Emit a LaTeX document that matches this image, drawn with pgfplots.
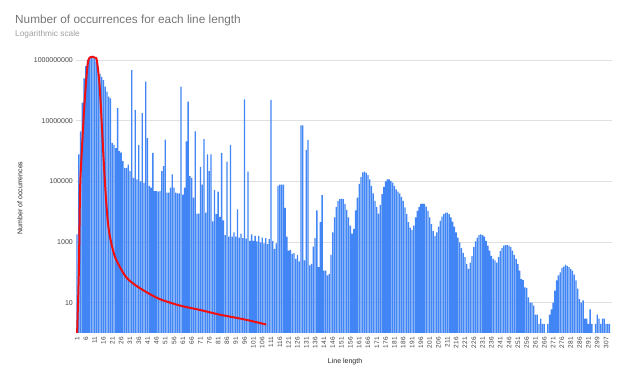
\documentclass[border=0pt]{standalone}
\usepackage{pgfplots}
\pgfplotsset{compat=1.18}
\usepackage{fontspec}
\setmainfont{Liberation Sans}
\definecolor{barblue}{HTML}{4285F4}
\definecolor{titlegrey}{HTML}{757575}
\definecolor{subgrey}{HTML}{9E9E9E}
\definecolor{gridgrey}{HTML}{E0E0E0}
\definecolor{ticktext}{HTML}{444444}
\definecolor{lred}{HTML}{F20F0F}
\begin{document}
\begin{tikzpicture}
\useasboundingbox (0bp,0bp) rectangle (624bp,380bp);
\node[anchor=base west, text=titlegrey, font=\fontsize{11.8bp}{14bp}\selectfont, inner sep=0pt] at (15bp,356bp) {Number of occurrences for each line length};
\node[anchor=base west, text=subgrey, font=\fontsize{8.3bp}{10bp}\selectfont, inner sep=0pt] at (15bp,343.5bp) {Logarithmic scale};
\begin{axis}[
  at={(76bp,47bp)}, anchor=south west,
  scale only axis, width=536bp, height=288bp,
  ymode=log, ymin=1, ymax=3162277660,
  xmin=-0.6, xmax=303.4,
  axis lines*=left,
  axis line style={draw=none},
  major tick length=0pt, minor tick length=0pt,
  ymajorgrids, major grid style={gridgrey, line width=0.8bp},
  ytick={10,1000,100000,10000000,1000000000},
  yticklabels={10,1000,100000,10000000,1000000000},
  yticklabel style={font=\fontsize{7bp}{8bp}\selectfont, text=ticktext, inner sep=0pt, anchor=east},
  yticklabel shift=3bp,
  xtick={0,5,...,300},
  xticklabels={1,6,11,16,21,26,31,36,41,46,51,56,61,66,71,76,81,86,91,96,101,106,111,116,121,126,131,136,141,146,151,156,161,166,171,176,181,186,191,196,201,206,211,216,221,226,231,236,241,246,251,256,261,266,271,276,281,286,291,299,307},
  xticklabel style={font=\fontsize{6.5bp}{7bp}\selectfont, text=ticktext, rotate=90, anchor=east, inner sep=0pt},
  xticklabel shift=4bp,
  xlabel={Line length}, ylabel={Number of occurrences},
  xlabel style={font=\fontsize{7bp}{8bp}\selectfont, text=black!85, at={(axis description cs:0.502,-0.1007)}, anchor=center},
  ylabel style={font=\fontsize{7bp}{8bp}\selectfont, text=black!85, at={(axis description cs:-0.1045,0.469)}, anchor=center, rotate=0},
  clip=true,
]
\addplot[ybar, bar width=0.75, fill=barblue, draw=none] coordinates {
(0,1800)(1,780000)(2,4500000)(3,40000000)(4,250000000)(5,630000000)(6,1000000000)(7,1200000000)(8,1260000000)(9,1260000000)(10,1120000000)(11,890000000)(12,450000000)(13,350000000)(14,280000000)(15,220000000)(16,135000000)(17,91000000)(18,63000000)(19,55000000)(20,1860000)(21,1620000)(22,1260000)(23,26000000)(24,1000000)(25,890000)(26,470000)(27,280000)(28,280000)(29,360000)(30,220000)(31,470000000)(32,130000)(33,23000000)(34,117000)(35,1600000)(36,100000)(37,18000000)(38,89000)(39,195000000)(40,2700000)(41,71000)(42,62000)(43,870000)(44,48000)(45,48000)(46,46000)(47,48000)(48,220000)(49,320000)(50,2400000)(51,43000)(52,43000)(53,62000)(54,170000)(55,62000)(56,43000)(57,40000)(58,40000)(59,135000000)(60,37000)(61,62000)(62,2100000)(63,43000000)(64,150000)(65,130000)(66,29000)(67,4500000)(68,8700)(69,8700)(70,300000)(71,79000)(72,2500000)(73,9300)(74,780000)(75,220000)(76,780000)(77,4800)(78,52000)(79,8300)(80,46000)(81,6800)(82,870000)(83,5200)(84,1700)(85,450000)(86,1500)(87,1600000)(88,1500)(89,2100)(90,1500)(91,12000)(92,1400)(93,1900)(94,1350)(95,51000000)(96,1300)(97,210000)(98,1100)(99,1800)(100,1100)(101,1600)(102,1050)(103,1600)(104,980)(105,1400)(106,910)(107,1350)(108,850)(109,1260)(110,49000000)(111,1100)(112,590)(113,910)(114,71000)(115,79000)(116,79000)(117,79000)(118,13500)(119,1500)(120,520)(121,550)(122,410)(123,430)(124,280)(125,380)(126,230)(127,7100000)(128,7100000)(129,250)(130,1100000)(131,2300000)(132,170)(133,190)(134,710)(135,1350)(136,11000)(137,150)(138,4500)(139,35000)(140,115)(141,115)(142,80)(143,90)(144,380)(145,2100)(146,6500)(147,14500)(148,23000)(149,26000)(150,27000)(151,26000)(152,18000)(153,11500)(154,6500)(155,3500)(156,1900)(157,2700)(158,11000)(159,29000)(160,83000)(161,138000)(162,200000)(163,210000)(164,190000)(165,160000)(166,117000)(167,71000)(168,40000)(169,23000)(170,14500)(171,8700)(172,17000)(173,38000)(174,66000)(175,100000)(176,117000)(177,117000)(178,102000)(179,91000)(180,71000)(181,55000)(182,46000)(183,40000)(184,31000)(185,23000)(186,13800)(187,8300)(188,4500)(189,3000)(190,2500)(191,3500)(192,6500)(193,10700)(194,14500)(195,18000)(196,18600)(197,18000)(198,14800)(199,10700)(200,6500)(201,3900)(202,2300)(203,1600)(204,2100)(205,3200)(206,5000)(207,6900)(208,8300)(209,9300)(210,9300)(211,8300)(212,6500)(213,4700)(214,3200)(215,2100)(216,1400)(217,980)(218,630)(219,440)(220,320)(221,190)(222,130)(223,210)(224,350)(225,680)(226,1050)(227,1400)(228,1700)(229,1800)(230,1700)(231,1500)(232,1100)(233,760)(234,520)(235,350)(236,280)(237,250)(238,210)(239,320)(240,500)(241,630)(242,760)(243,790)(244,790)(245,760)(246,680)(247,520)(248,380)(249,280)(250,190)(251,115)(252,60)(253,56)(254,32)(255,31)(256,15)(257,10)(258,10)(259,8)(260,4)(261,4)(262,2)(263,3)(264,2)(265,2)(266,1)(267,2)(268,4)(269,6)(270,10)(271,25)(272,54)(273,80)(274,100)(275,140)(276,155)(277,180)(278,165)(279,150)(280,130)(281,115)(282,85)(283,54)(284,29)(285,13)(286,10)(287,12)(288,3)(289,3)(290,2)(291,6)(292,2)(293,1)(294,2)(295,4)(296,3)(297,2)(298,3)(299,3)(300,2)(301,2)(302,2)
};
\addplot[lred, line width=2bp, smooth, tension=0.5, mark=none] coordinates {
(0,0.9)(1,100)(1.7,50000)(2.7,1000000)(4.1,29000000)(5.5,370000000)(6.4,1000000000)(7.6,1250000000)(8.9,1300000000)(10.2,1200000000)(11.2,1000000000)(12.7,170000000)(14,8300000)(15.3,300000)(16.5,23000)(17.5,4500)(18.7,1450)(21.6,316)(27.2,78)(32,42)(39.5,22)(47.1,13)(58.5,8)(69.8,5.75)(81.2,4)(95,2.8)(107.3,1.9)
};
\end{axis}
\end{tikzpicture}
\end{document}
